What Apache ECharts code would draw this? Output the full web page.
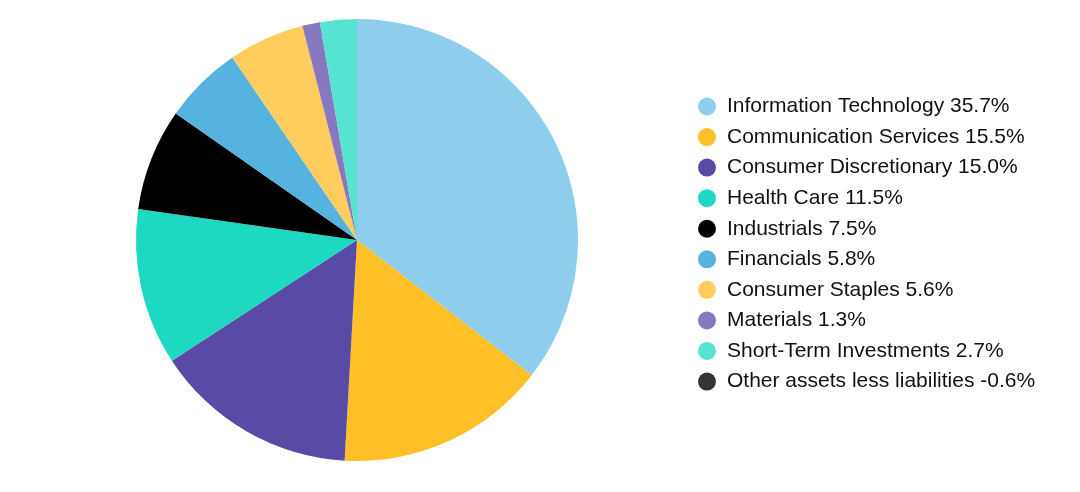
<!DOCTYPE html>
<html>
<head>
<meta charset="utf-8">
<script src="https://cdn.jsdelivr.net/npm/echarts@6/dist/echarts.min.js"></script>
<style>html,body{margin:0;padding:0;background:#fff}#c{width:1080px;height:492px}</style>
</head>
<body>
<div id="c"></div>
<script>
const categories = ["Information Technology","Communication Services","Consumer Discretionary","Health Care","Industrials","Financials","Consumer Staples","Materials","Short-Term Investments","Other assets less liabilities"];
const values = [35.7, 15.5, 15.0, 11.5, 7.5, 5.8, 5.6, 1.3, 2.7, -0.6];
const colors = ["#8ECDEB","#FFBF27","#594BA5","#1DD9C1","#000000","#56B3E0","#FECD5D","#8878C0","#57E3D2","#333333"];

const lookup = {};
categories.forEach((c,i)=>{ lookup[c] = values[i]; });

const data = categories.map((c,i)=>({
  name: c,
  value: values[i] > 0 ? values[i] : '-',
  itemStyle: {color: colors[i]}
}));

const chart = echarts.init(document.getElementById('c'), null, {renderer:'canvas'});
chart.setOption({
  animation: false,
  color: colors,
  legend: {
    orient: 'vertical',
    left: 693,
    top: 91,
    padding: 5,
    icon: 'circle',
    itemWidth: 18,
    itemHeight: 18,
    itemGap: 9.56,
    data: categories,
    formatter: function(name){ return name + ' ' + lookup[name].toFixed(1) + '%'; },
    textStyle: {fontFamily: "'Liberation Sans', Arial, sans-serif", fontSize: 21, color: '#111', lineHeight: 21, padding: [0,0,0,6]}
  },
  series: [{
    type: 'pie',
    center: [357, 240],
    radius: [0, 221],
    startAngle: 90,
    clockwise: true,
    label: {show: false},
    labelLine: {show: false},
    emphasis: {disabled: true},
    itemStyle: {borderWidth: 0},
    data: data
  }]
});
</script>
</body>
</html>
